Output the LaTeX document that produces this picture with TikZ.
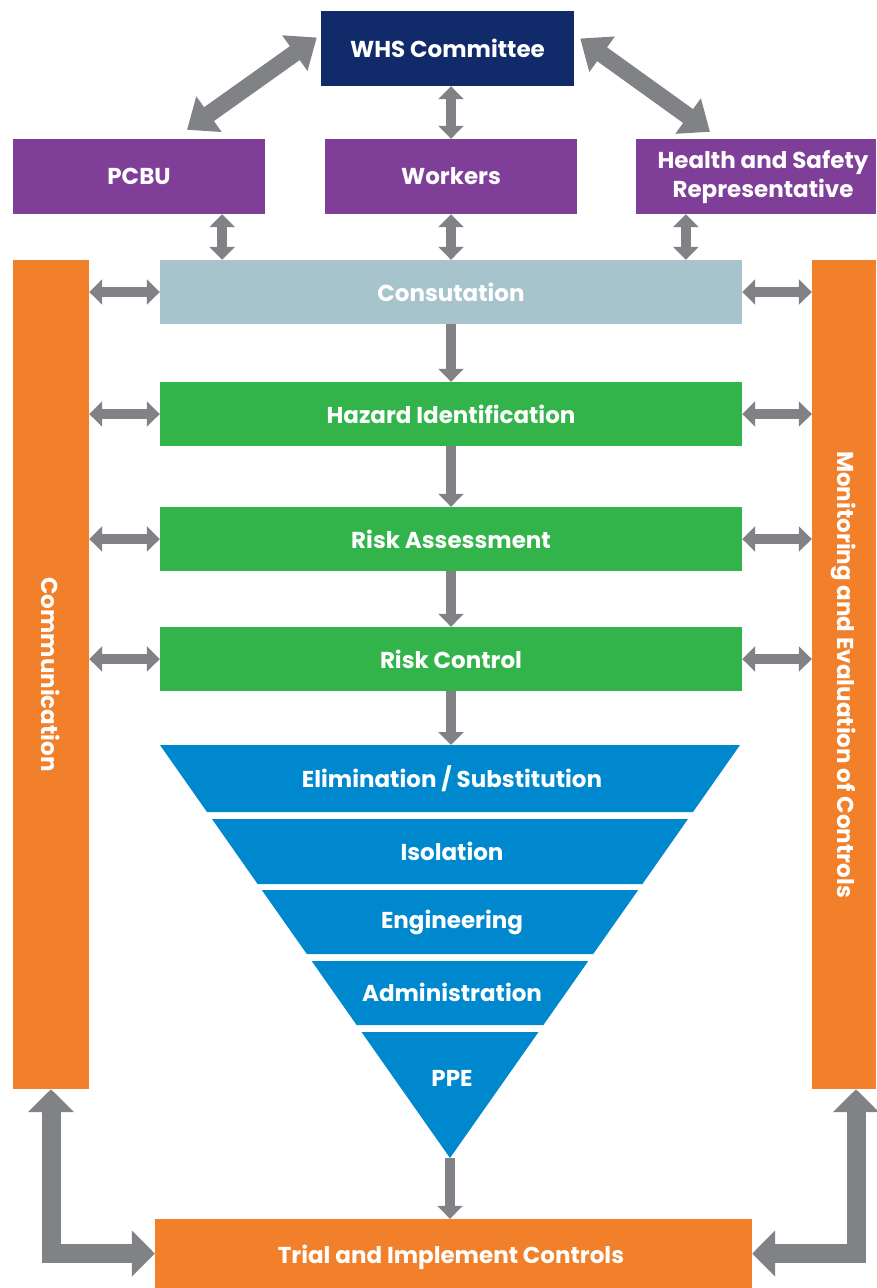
\documentclass[tikz,border=0pt]{standalone}
\usepackage{fontspec}
\setmainfont{Poppins}
\usetikzlibrary{arrows.meta,calc}
\definecolor{navy}{HTML}{112A6A}
\definecolor{purp}{HTML}{7F3F98}
\definecolor{consb}{HTML}{A7C4CC}
\definecolor{grn}{HTML}{33B44A}
\definecolor{blu}{HTML}{0088CF}
\definecolor{org}{HTML}{F2802A}
\definecolor{agray}{HTML}{808285}
\tikzset{
  box/.style={rectangle, inner sep=0pt, text=white, align=center,
    font=\fontsize{23}{29}\selectfont\bfseries},
  lbl/.style={inner sep=0pt, text=white, align=center,
    font=\fontsize{23}{29}\selectfont\bfseries},
  dbl/.style={draw=agray, line width=10pt,
    {Triangle[length=13pt,width=25pt]}-{Triangle[length=13pt,width=25pt]}},
  sgl/.style={draw=agray, line width=10pt, -{Triangle[length=13pt,width=25pt]}},
  diag/.style={draw=agray, line width=17pt,
    {Triangle[length=27pt,width=42pt]}-{Triangle[length=27pt,width=42pt]}},
  ell/.style={draw=agray, line width=19pt, line join=miter,
    {Triangle[length=23pt,width=45pt]}-{Triangle[length=23pt,width=45pt]}},
  band/.style={fill=blu}
}
\begin{document}
\begin{tikzpicture}[x=1pt,y=-1pt]
\useasboundingbox (0,0) rectangle (876,1288);
% top boxes
\node[box, fill=navy, minimum width=253pt, minimum height=75pt] (whs) at (447.5,48.5) {WHS Committee};
\node[box, fill=purp, minimum width=252pt, minimum height=75pt] (pcbu) at (139,176.5) {PCBU};
\node[box, fill=purp, minimum width=252pt, minimum height=75pt] (workers) at (451,176.5) {Workers};
\node[box, fill=purp, minimum width=240pt, minimum height=75pt] (hsr) at (756,176.5) {};
\node[lbl] (hsrt) at (763,177.5) {Health and Safety\\Representative};
% process boxes
\node[box, fill=consb, minimum width=582pt, minimum height=64pt] (cons) at (451,292) {Consutation};
\node[box, fill=grn, minimum width=582pt, minimum height=64pt] (haz) at (451,414) {Hazard Identification};
\node[box, fill=grn, minimum width=582pt, minimum height=64pt] (ra) at (451,539) {Risk Assessment};
\node[box, fill=grn, minimum width=582pt, minimum height=64pt] (rc) at (451,659) {Risk Control};
% side bars
\node[box, fill=org, minimum width=76pt, minimum height=829pt] (comm) at (51,674.5) {};
\node[lbl, rotate=-90] (commt) at (comm.center) {Communication};
\node[box, fill=org, minimum width=64pt, minimum height=829pt] (mon) at (844,674.5) {};
\node[lbl, rotate=-90] (mont) at (mon.center) {Monitoring and Evaluation of Controls};
% bottom box
\node[box, fill=org, minimum width=597pt, minimum height=69pt] (trial) at (453.5,1253.5) {};
\node[lbl] (trialt) at (451,1257) {Trial and Implement Controls};
% funnel
\coordinate (ftop) at (450,745);
\coordinate (ftip) at (450,1158);
\fill[band] (160,745) -- (740,745) -- (693,812) -- (207,812) -- cycle;
\fill[band] (212,819) -- (688,819) -- (642.4,884) -- (257.6,884) -- cycle;
\fill[band] (261.8,890) -- (638.2,890) -- (593.2,954) -- (306.8,954) -- cycle;
\fill[band] (311.7,961) -- (588.3,961) -- (543.4,1025) -- (356.6,1025) -- cycle;
\fill[band] (361.5,1032) -- (538.5,1032) -- (ftip) -- cycle;
\node[lbl] (elim) at (452,779) {Elimination / Substitution};
\node[lbl] (iso) at (452,851) {Isolation};
\node[lbl] (eng) at (452,922) {Engineering};
\node[lbl] (adm) at (452,992) {Administration};
\node[lbl] (ppe) at (452,1078) {PPE};
% diagonal arrows
\draw[diag] ($(whs.west)+(-4,-11)$) -- ($(pcbu.north)+(48,-9)$);
\draw[diag] ($(whs.east)+(6,-10)$) -- ($(hsr.north)+(-46,-7)$);
% vertical double arrows
\draw[dbl] (whs.south -| workers.north) -- (workers.north);
\draw[dbl] ([xshift=-43pt]pcbu.south east) -- ([xshift=-43pt]pcbu.south east |- cons.north);
\draw[dbl] (workers.south) -- (workers.south |- cons.north);
\draw[dbl] ([xshift=50pt]hsr.south west) -- ([xshift=50pt]hsr.south west |- cons.north);
% flow arrows
\draw[sgl] (cons.south) -- (haz.north);
\draw[sgl] (haz.south) -- (ra.north);
\draw[sgl] (ra.south) -- (rc.north);
\draw[sgl] (rc.south) -- (rc.south |- ftop);
\draw[sgl] (ftip) -- (ftip |- trial.north);
% side arrows
\foreach \n in {cons,haz,ra,rc}{
  \draw[dbl] (comm.east |- \n.west) -- (\n.west);
  \draw[dbl] (\n.east) -- (mon.west |- \n.east);
}
% L arrows
\draw[ell] (comm.south) -- (comm.south |- trial.west) -- (trial.west);
\coordinate (mons) at ([xshift=12pt]mon.south);
\draw[ell] (mons) -- (mons |- trial.east) -- (trial.east);
\end{tikzpicture}
\end{document}
